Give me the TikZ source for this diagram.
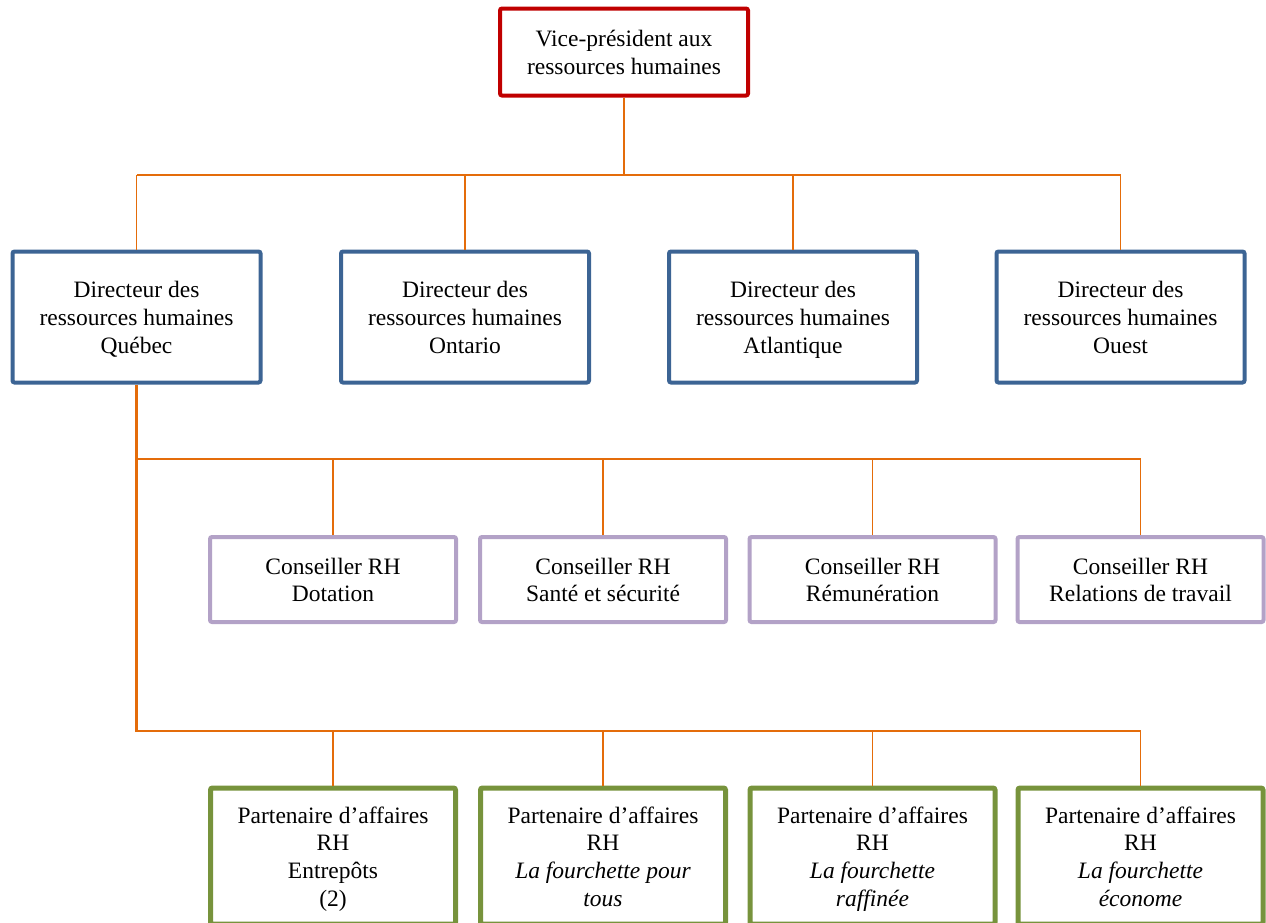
\documentclass[tikz,border=0pt]{standalone}
\usepackage{fontspec}
\setmainfont{Liberation Serif}
\definecolor{vpred}{HTML}{C00000}
\definecolor{dirblue}{HTML}{3C6494}
\definecolor{conspurple}{HTML}{B3A2C7}
\definecolor{partgreen}{HTML}{77933C}
\definecolor{connorange}{HTML}{E46C0A}
\newcommand{\tstrut}{\rule{0pt}{25.4pt}}
\begin{document}
\begin{tikzpicture}[x=1pt,y=-1pt,
  box/.style={draw, fill=white, rectangle, rounded corners=2pt, inner sep=0pt, align=center,
    font=\fontsize{23.5}{27.7}\selectfont},
  vpbox/.style={box, draw=vpred, line width=4pt, minimum width=248pt, minimum height=87pt},
  dirbox/.style={box, draw=dirblue, line width=4pt, minimum width=248pt, minimum height=131pt},
  consbox/.style={box, draw=conspurple, line width=4pt, minimum width=246pt, minimum height=85pt},
  partbox/.style={box, draw=partgreen, line width=5pt, minimum width=245pt, minimum height=136pt},
  conn/.style={draw=connorange, line width=1.8pt},
  drop/.style={draw=connorange, line width=1.5pt}]
\useasboundingbox (0,0) rectangle (1266,922);
\clip (0,0) rectangle (1266,922);
\coordinate (b1) at (0,175);
\coordinate (b2) at (0,459);
\coordinate (b3) at (0,731);
\node[vpbox] (vp) at (624,52) {\tstrut Vice-président aux\\ressources humaines\strut};
\node[dirbox] (d1) at (136.5,317) {\tstrut Directeur des\\ressources humaines\\Québec\strut};
\node[dirbox] (d2) at (465,317) {\tstrut Directeur des\\ressources humaines\\Ontario\strut};
\node[dirbox] (d3) at (793,317) {\tstrut Directeur des\\ressources humaines\\Atlantique\strut};
\node[dirbox] (d4) at (1120.5,317) {\tstrut Directeur des\\ressources humaines\\Ouest\strut};
\node[consbox] (c1) at (333,579.5) {\tstrut Conseiller RH\\Dotation\strut};
\node[consbox] (c2) at (603,579.5) {\tstrut Conseiller RH\\Santé et sécurité\strut};
\node[consbox] (c3) at (872.5,579.5) {\tstrut Conseiller RH\\Rémunération\strut};
\node[consbox] (c4) at (1140.5,579.5) {\tstrut Conseiller RH\\Relations de travail\strut};
\node[partbox] (p1) at (333,856) {\tstrut Partenaire d’affaires\\RH\\Entrepôts\\(2)\strut};
\node[partbox] (p2) at (603,856) {\tstrut Partenaire d’affaires\\RH\\\textit{La fourchette pour}\\\textit{tous}\strut};
\node[partbox] (p3) at (872.5,856) {\tstrut Partenaire d’affaires\\RH\\\textit{La fourchette}\\\textit{raffinée}\strut};
\node[partbox] (p4) at (1140.5,856) {\tstrut Partenaire d’affaires\\RH\\\textit{La fourchette}\\\textit{économe}\strut};
% level 1
\draw[conn] (vp.south) -- (vp.south|-b1);
\draw[conn] (d1.north|-b1) -- (d4.north|-b1);
\foreach \d in {d1,d2,d3,d4} \draw[drop] (\d.north|-b1) -- (\d.north);
% trunk
\draw[conn, line width=2.2pt] (d1.south) -- (d1.south|-b3) -- (p4.north|-b3);
\draw[conn] (d1.south|-b2) -- (c4.north|-b2);
\foreach \c in {c1,c2,c3,c4} \draw[drop] (\c.north|-b2) -- (\c.north);
\foreach \p in {p1,p2,p3,p4} \draw[drop] (\p.north|-b3) -- (\p.north);
\end{tikzpicture}
\end{document}
